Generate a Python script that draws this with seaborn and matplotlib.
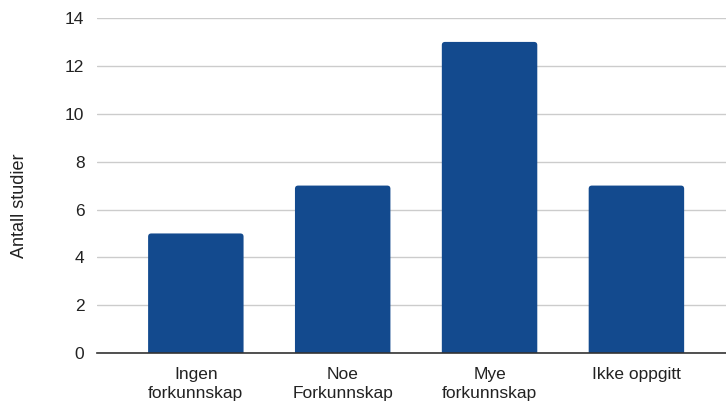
import matplotlib
matplotlib.use("Agg")
import matplotlib.pyplot as plt
from matplotlib.patches import FancyBboxPatch
import seaborn as sns
import pandas as pd

categories = ["Ingen\nforkunnskap", "Noe\nForkunnskap", "Mye\nforkunnskap", "Ikke oppgitt"]
counts = [5, 7, 13, 7]
y_ticks = [0, 2, 4, 6, 8, 10, 12, 14]

sns.set_theme(style="white")
plt.rcParams["font.family"] = ["Liberation Sans", "DejaVu Sans"]

df = pd.DataFrame({"kategori": categories, "antall": counts})

fig = plt.figure(figsize=(7.26, 4.05), dpi=100)
ax = fig.add_axes([0.1336, 0.128, 0.8664, 0.8276])

bar_color = "#134a8e"
sns.barplot(data=df, x="kategori", y="antall", color=bar_color, width=0.65,
            saturation=1, ax=ax, zorder=3)

# Swap the square bars for ones with softly rounded tops
for p in list(ax.patches):
    x0, w, h = p.get_x(), p.get_width(), p.get_height()
    p.remove()
    rb = FancyBboxPatch((x0, -0.5), w, h + 0.5,
                        boxstyle="round,pad=0,rounding_size=0.022",
                        mutation_aspect=6.0, facecolor=bar_color,
                        edgecolor="none", zorder=3)
    ax.add_patch(rb)

ax.set_xlim(-0.673, 3.61)
ax.set_ylim(0, 14)
ax.set_yticks(y_ticks)
ax.yaxis.grid(True, color="#cccccc", linewidth=1)
ax.set_axisbelow(True)
for s in ["top", "right", "left"]:
    ax.spines[s].set_visible(False)
ax.spines["bottom"].set_color("#333333")
ax.spines["bottom"].set_linewidth(1.2)
ax.spines["bottom"].set_zorder(4)

ax.tick_params(axis="y", length=0, pad=9, labelsize=12.5, labelcolor="#222222")
ax.tick_params(axis="x", length=0, pad=10, labelsize=12.5, labelcolor="#222222")
for lbl in ax.get_xticklabels():
    lbl.set_linespacing(1.35)
ax.set_xlabel("")
ax.set_ylabel("Antall studier", fontsize=13, color="#222222")
ax.yaxis.set_label_coords(-0.11, 0.44)

fig.savefig("out.png", dpi=100)
